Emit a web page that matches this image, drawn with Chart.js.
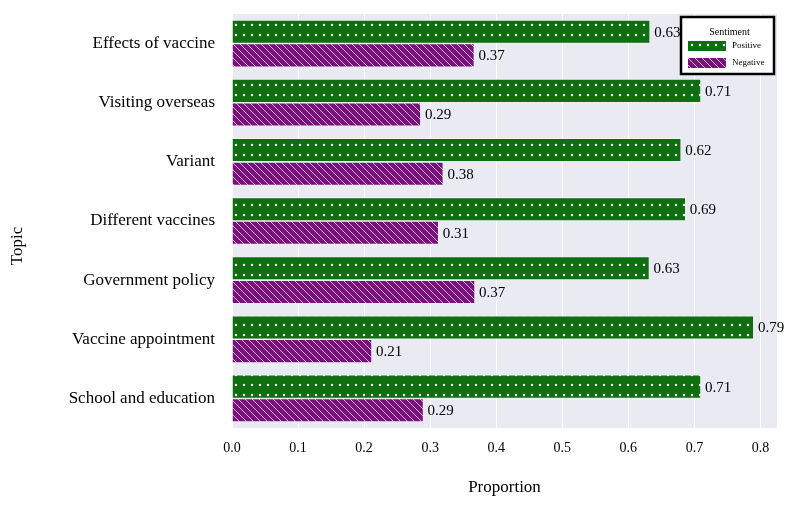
<!DOCTYPE html>
<html>
<head>
<meta charset="utf-8">
<script src="https://cdn.jsdelivr.net/npm/chart.js@4"></script>
<style>
	html, body { margin: 0; padding: 0; background: #ffffff; }
	#wrap { width: 800px; height: 507px; }
</style>
</head>
<body>
<div id="wrap"><canvas id="chart" width="800" height="507"></canvas></div>
<script>
const topics = [
	"Effects of vaccine",
	"Visiting overseas",
	"Variant",
	"Different vaccines",
	"Government policy",
	"Vaccine appointment",
	"School and education",
];
// bar lengths as drawn in the picture
const positive = [0.633, 0.71, 0.68, 0.687, 0.632, 0.79, 0.71];
const negative = [0.367, 0.286, 0.32, 0.313, 0.368, 0.212, 0.29];
// the printed labels (Variant's labels differ from its bars in the original)
const positiveText = ["0.63", "0.71", "0.62", "0.69", "0.63", "0.79", "0.71"];
const negativeText = ["0.37", "0.29", "0.38", "0.31", "0.37", "0.21", "0.29"];
const xTicks = [0, 0.1, 0.2, 0.3, 0.4, 0.5, 0.6, 0.7, 0.8];

const GREEN = "#0f6e10";
const PURPLE = "#7a127c";
const SERIF = "'Liberation Serif', 'Times New Roman', serif";

function dotPattern(color) {
	const c = document.createElement("canvas");
	c.width = 8;
	c.height = 10;
	const g = c.getContext("2d");
	g.fillStyle = color;
	g.fillRect(0, 0, 8, 10);
	g.fillStyle = "#ffffff";
	g.beginPath();
	g.arc(4, 5, 1.2, 0, Math.PI * 2);
	g.fill();
	return g.createPattern(c, "repeat");
}

function hatchPattern(color) {
	const s = 7;
	const c = document.createElement("canvas");
	c.width = s;
	c.height = s;
	const g = c.getContext("2d");
	g.fillStyle = color;
	g.fillRect(0, 0, s, s);
	g.strokeStyle = "rgba(255,255,255,0.85)";
	g.lineWidth = 0.8;
	g.beginPath();
	g.moveTo(0, 0);
	g.lineTo(s, s);
	g.moveTo(-s, 0);
	g.lineTo(s, s * 2);
	g.moveTo(0, -s);
	g.lineTo(s * 2, s);
	g.stroke();
	return g.createPattern(c, "repeat");
}

const posFill = dotPattern(GREEN);
const negFill = hatchPattern(PURPLE);

const plotBackground = {
	id: "plotBackground",
	beforeDraw(chart) {
		const { ctx, chartArea } = chart;
		ctx.save();
		ctx.fillStyle = "#eaeaf2";
		ctx.fillRect(chartArea.left, chartArea.top, chartArea.width, chartArea.height);
		ctx.restore();
	},
};

const valueLabels = {
	id: "valueLabels",
	afterDatasetsDraw(chart) {
		const ctx = chart.ctx;
		const texts = [positiveText, negativeText];
		ctx.save();
		ctx.font = "15px " + SERIF;
		ctx.fillStyle = "#000000";
		ctx.textAlign = "left";
		ctx.textBaseline = "middle";
		chart.data.datasets.forEach((ds, i) => {
			chart.getDatasetMeta(i).data.forEach((bar, j) => {
				ctx.fillText(texts[i][j], bar.x + 4, bar.y + 1);
			});
		});
		ctx.restore();
	},
};

// y title sits lower than the scale's middle in the original
const topicTitle = {
	id: "topicTitle",
	afterDraw(chart) {
		const ctx = chart.ctx;
		ctx.save();
		ctx.translate(18, 246);
		ctx.rotate(-Math.PI / 2);
		ctx.font = "17px " + SERIF;
		ctx.fillStyle = "#000000";
		ctx.textAlign = "center";
		ctx.textBaseline = "middle";
		ctx.fillText("Topic", 0, 0);
		ctx.restore();
	},
};

// legend drawn inside the plot, top right, with a black frame
const boxLegend = {
	id: "boxLegend",
	afterDraw(chart) {
		const ctx = chart.ctx;
		const x = 681, y = 17, w = 93, h = 57;
		ctx.save();
		ctx.fillStyle = "#ffffff";
		ctx.fillRect(x, y, w, h);
		ctx.strokeStyle = "#000000";
		ctx.lineWidth = 2.5;
		ctx.strokeRect(x, y, w, h);
		ctx.fillStyle = "#000000";
		ctx.textBaseline = "middle";
		ctx.textAlign = "center";
		ctx.font = "10px " + SERIF;
		ctx.fillText("Sentiment", x + w / 2 + 2, y + 15);
		ctx.textAlign = "left";
		ctx.font = "9px " + SERIF;
		chart.data.datasets.forEach((ds, i) => {
			const ry = y + 29 + i * 17;
			ctx.fillStyle = ds.backgroundColor;
			ctx.fillRect(x + 7, ry - 5, 38, 10);
			ctx.fillStyle = "#000000";
			ctx.fillText(ds.label, x + 51, ry);
		});
		ctx.restore();
	},
};

new Chart(document.getElementById("chart"), {
	type: "bar",
	data: {
		labels: topics,
		datasets: [
			{
				label: "Positive",
				data: positive,
				backgroundColor: posFill,
				borderColor: "#f4f4f8",
				borderWidth: 0.8,
				categoryPercentage: 0.8,
				barPercentage: 1,
			},
			{
				label: "Negative",
				data: negative,
				backgroundColor: negFill,
				borderColor: "#f4f4f8",
				borderWidth: 0.8,
				categoryPercentage: 0.8,
				barPercentage: 1,
			},
		],
	},
	options: {
		indexAxis: "y",
		responsive: false,
		animation: false,
		layout: {
			padding: { top: 14, right: 23, left: 0, bottom: 0 },
		},
		plugins: {
			legend: { display: false },
			tooltip: { enabled: false },
		},
		scales: {
			x: {
				min: 0,
				max: 0.825,
				afterBuildTicks(scale) {
					scale.ticks = xTicks.map((v) => ({ value: v }));
				},
				afterFit(scale) {
					scale.height = 507 - 428;
				},
				border: { display: false },
				grid: {
					color: "#ffffff",
					lineWidth: 1,
					drawTicks: false,
				},
				ticks: {
					padding: 12,
					color: "#000000",
					font: { family: SERIF, size: 14 },
					callback: (v) => Number(v).toFixed(1),
				},
				title: {
					display: true,
					text: "Proportion",
					color: "#000000",
					font: { family: SERIF, size: 17 },
					padding: { top: 0, bottom: 9 },
				},
			},
			y: {
				afterFit(scale) {
					scale.width = 232;
					scale.paddingTop = 0;
					scale.paddingBottom = 0;
				},
				border: { display: false },
				grid: { display: false, drawTicks: false },
				ticks: {
					padding: 17,
					color: "#000000",
					font: { family: SERIF, size: 17 },
				},
				title: { display: false },
			},
		},
	},
	plugins: [plotBackground, valueLabels, topicTitle, boxLegend],
});
</script>
</body>
</html>
